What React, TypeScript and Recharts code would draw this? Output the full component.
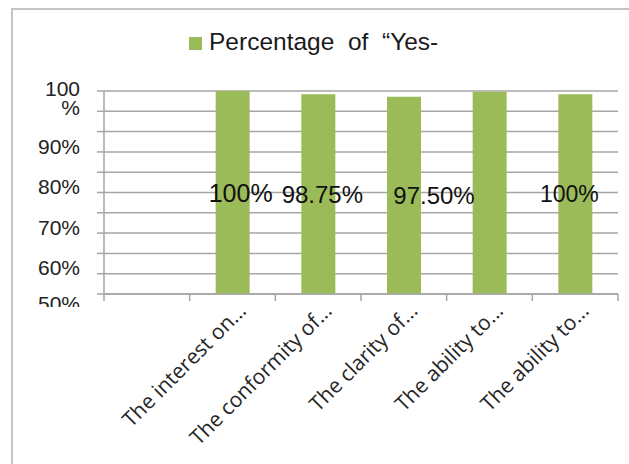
import React from "react";
import { BarChart, Bar, XAxis, YAxis, CartesianGrid, Legend, LabelList } from "recharts";

const CATEGORIES = [
  "",
  "The interest on...",
  "The conformity of...",
  "The clarity of...",
  "The ability to...",
  "The ability to...",
];
const YES_PERCENT = [null, 100, 99.2, 98.6, 99.8, 99.2];
const BAR_LABELS = ["", "100%", "98.75%", "97.50%", "", "100%"];
const GRID_TICKS = [50, 55, 60, 65, 70, 75, 80, 85, 90, 95, 100];
const LABEL_TICKS = [50, 60, 70, 80, 90, 100];
const SERIES_NAME = "Percentage  of  \u201cYes-";

const W = 629;
const H = 464;
const MARGIN = { top: 91, right: 11, bottom: 0, left: 0 };
const Y_WIDTH = 104;
const X_HEIGHT = 170;
const GREEN = "#9bbb59";
const GRID = "#a6a6a6";
const ARIAL = "'Liberation Sans', Arial, sans-serif";

const data = CATEGORIES.map((name, i) => ({
  name,
  yes: YES_PERCENT[i],
  label: BAR_LABELS[i],
}));

const PLOT_LEFT = MARGIN.left + Y_WIDTH;
const halfBand = (W - MARGIN.left - MARGIN.right - Y_WIDTH) / CATEGORIES.length / 2;

// the original puts its data labels a bit off the bar centres
const LABEL_NUDGE = [0, 8, 4, 30, 0, -6];
const LABEL_SIZE = [25, 25, 24, 24, 24, 23];

function YTick({ x, y, payload }: any) {
  const v = payload.value;
  if (!LABEL_TICKS.includes(v)) return <g />;
  const common = { textAnchor: "end" as const, fontFamily: ARIAL, fontSize: 21, fill: "#222" };
  if (v === 100) {
    return (
      <g>
        <text x={x} y={y + 5} {...common}>100</text>
        <text x={x} y={y + 24} {...common}>%</text>
      </g>
    );
  }
  if (v === 50) {
    return (
      <g>
        <defs>
          <clipPath id="clip-fifty">
            <rect x={0} y={0} width={100} height={307} />
          </clipPath>
        </defs>
        <text x={x} y={y + 17} clipPath="url(#clip-fifty)" {...common}>{`${v}%`}</text>
      </g>
    );
  }
  return (
    <text x={x} y={y + 22} {...common}>{`${v}%`}</text>
  );
}

function XTick({ x, y, payload, index }: any) {
  const last = index === CATEGORIES.length - 1;
  return (
    <g>
      <line x1={x - halfBand} y1={y} x2={x - halfBand} y2={y + 7} stroke={GRID} strokeWidth={1.5} />
      {last && <line x1={x + halfBand} y1={y} x2={x + halfBand} y2={y + 7} stroke={GRID} strokeWidth={1.5} />}
      <text
        transform={`translate(${x + 15},${y + 18}) rotate(-45)`}
        textAnchor="end"
        fontFamily="'Open Sans', sans-serif"
        fontSize={21}
        fill="#262626"
      >
        {payload.value}
      </text>
    </g>
  );
}

function BarLabel({ x, y, width, height, value }: any) {
  if (!value) return null;
  const cx = x + width / 2;
  const i = Math.round((cx - PLOT_LEFT - halfBand) / (2 * halfBand));
  const size = LABEL_SIZE[i];
  return (
    <text
      x={cx + LABEL_NUDGE[i]}
      y={y + height / 2 + size * 0.36}
      textAnchor="middle"
      fontFamily={ARIAL}
      fontSize={size}
      fill="#111"
    >
      {value}
    </text>
  );
}

function LegendContent({ payload }: any) {
  return (
    <div style={{ display: "flex", alignItems: "center" }}>
      {(payload || []).map((p: any, i: number) => (
        <div key={i} style={{ display: "flex", alignItems: "center" }}>
          <span style={{ width: 13, height: 13, background: GREEN, marginRight: 7, marginTop: 3 }} />
          <span style={{ fontFamily: ARIAL, fontSize: 24.5, lineHeight: "28px", color: "#1a1a1a", whiteSpace: "pre" }}>
            {p.value}
          </span>
        </div>
      ))}
    </div>
  );
}

export default function App() {
  return (
    <div style={{ position: "absolute", left: 0, top: 0, width: W, height: H, background: "#fff", overflow: "hidden" }}>
      <div
        style={{
          position: "absolute",
          left: 11,
          top: 8,
          width: W,
          height: H,
          borderLeft: "2px solid #c4c4c4",
          borderTop: "2px solid #c4c4c4",
        }}
      />
      <BarChart width={W} height={H} data={data} margin={MARGIN}>
        <CartesianGrid vertical={false} stroke={GRID} strokeWidth={1.5} />
        <XAxis
          dataKey="name"
          interval={0}
          height={X_HEIGHT}
          tickSize={0}
          tickMargin={0}
          tickLine={false}
          axisLine={{ stroke: GRID, strokeWidth: 1.5 }}
          tick={<XTick />}
        />
        <YAxis
          domain={[50, 100]}
          ticks={GRID_TICKS}
          allowDataOverflow
          interval={0}
          width={Y_WIDTH}
          tickSize={7}
          tickMargin={17}
          tickLine={{ stroke: GRID, strokeWidth: 1.5 }}
          axisLine={{ stroke: GRID, strokeWidth: 1.5 }}
          tick={<YTick />}
        />
        <Legend
          verticalAlign="middle"
          align="center"
          wrapperStyle={{ top: 28, left: 189, width: 320 }}
          content={<LegendContent />}
        />
        <Bar dataKey="yes" name={SERIES_NAME} fill={GREEN} barSize={34} isAnimationActive={false}>
          <LabelList dataKey="label" content={<BarLabel />} />
        </Bar>
      </BarChart>
    </div>
  );
}
